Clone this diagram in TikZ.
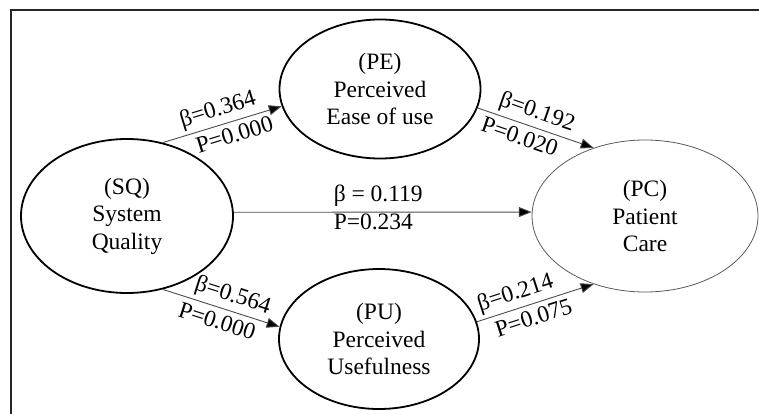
\documentclass[tikz,border=0pt]{standalone}
\usepackage{fontspec}
\setmainfont{Liberation Serif}
\usetikzlibrary{shapes.geometric,arrows.meta}
\begin{document}
\begin{tikzpicture}[x=1pt,y=-1pt,
  every node/.style={font=\fontsize{23.5}{27.5}\selectfont},
  construct/.style={ellipse,draw=black,line width=1.8pt,inner sep=0pt,align=center},
  outcome/.style={ellipse,draw=black!65,line width=0.8pt,inner sep=0pt,align=center},
  link/.style={draw=black!70,line width=0.9pt,-{Triangle[length=13pt,width=10pt,fill=black]}},
  up/.style={sloped,above,inner sep=3.5pt},
  dn/.style={sloped,below,inner sep=5pt}
]
\useasboundingbox (0,0) rectangle (759,414);
\clip (0,0) rectangle (759,414);
\draw[line width=1.2pt,black!85] (11,430) -- (11,10) -- (770,10);

\node[construct,minimum width=212pt,minimum height=154pt] (SQ) at (127,216) {(SQ)\\System\\Quality};
\node[construct,minimum width=201pt,minimum height=139pt] (PE) at (380,89) {(PE)\\Perceived\\Ease of use};
\node[construct,minimum width=200pt,minimum height=140pt] (PU) at (379,339) {(PU)\\Perceived\\Usefulness};
\node[outcome,minimum width=226pt,minimum height=152pt] (PC) at (645,216) {(PC)\\Patient\\Care};

\draw[link] (SQ.64) -- node[up,pos=0.5] {β=0.364} node[dn,pos=0.57] {P=0.000} (PE.190);
\draw[link] (PE.349) -- node[up,pos=0.47] {β=0.192} node[dn,pos=0.40] {P=0.020} (PC.127);
\draw[link] (SQ.296) -- node[up,pos=0.56] {β=0.564} node[dn,pos=0.50] {P=0.000} (PU.173);
\draw[link] (PU.10) -- node[up,pos=0.37] {β=0.214} node[dn,pos=0.45] {P=0.075} (PC.233);
\draw[link] (SQ.2) -- node[anchor=south west,inner sep=0pt,yshift=5pt,pos=0.334] {β = 0.119} node[anchor=north west,inner sep=0pt,yshift=-1.5pt,pos=0.334] {P=0.234} (PC.178);
\end{tikzpicture}
\end{document}
